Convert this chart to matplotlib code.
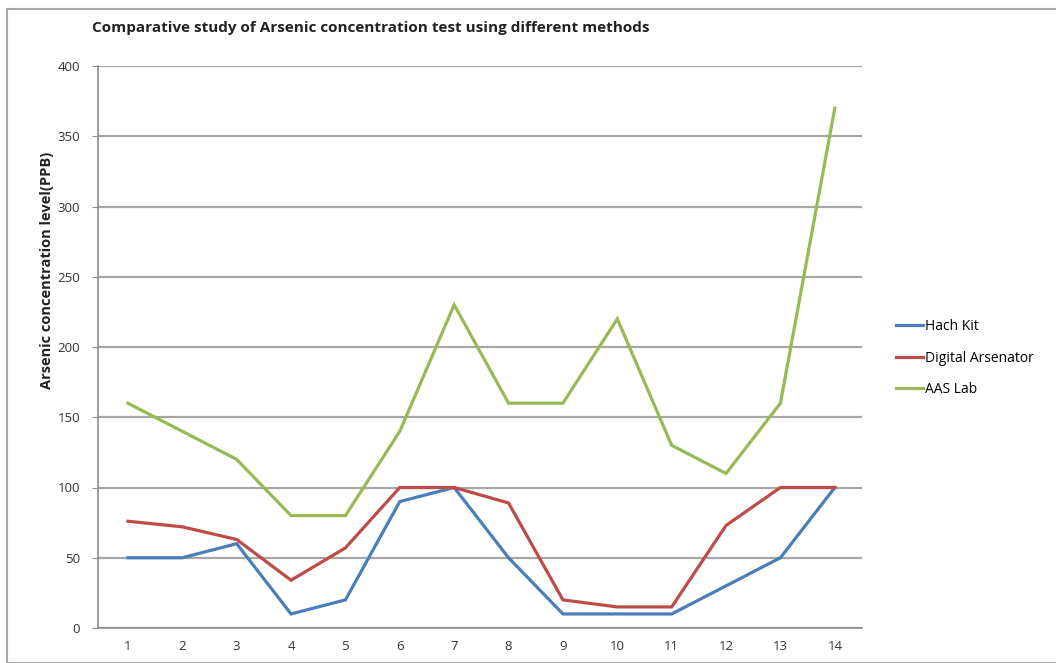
import matplotlib.pyplot as plt
from matplotlib.patches import Rectangle

plt.rcParams['font.family'] = ['Open Sans', 'DejaVu Sans']

samples = list(range(1, 15))
hach_kit = [50, 50, 60, 10, 20, 90, 100, 50, 10, 10, 10, 30, 50, 100]
digital_arsenator = [76, 72, 63, 34, 57, 100, 100, 89, 20, 15, 15, 73, 100, 100]
aas_lab = [160, 140, 120, 80, 80, 140, 230, 160, 160, 220, 130, 110, 160, 370]

series = [
    ('Hach Kit', hach_kit, '#4a7ebb'),
    ('Digital Arsenator', digital_arsenator, '#be4b48'),
    ('AAS Lab', aas_lab, '#98b954'),
]

W, H = 1056, 663
fig = plt.figure(figsize=(W / 100, H / 100), dpi=100)
ax = fig.add_axes([98 / W, 1 - 628 / H, (862 - 98) / W, (628 - 66) / H])

# outer chart border
fig.patches.append(Rectangle((7 / W, 0), 1.0, 1 - 9 / H, transform=fig.transFigure,
                             fill=False, edgecolor='#a6a6a6', linewidth=1.5))

for name, vals, color in series:
    ax.plot(samples, vals, color=color, linewidth=2.3, label=name, solid_joinstyle='miter')

ax.set_xlim(0.45, 14.5)
ax.set_ylim(0, 400)
ax.set_yticks(range(0, 401, 50))
ax.set_xticks(samples)
ax.yaxis.grid(True, color='#a6a6a6', linewidth=1.6)
ax.set_axisbelow(True)

for side in ['top', 'right']:
    ax.spines[side].set_visible(False)
for side in ['left', 'bottom']:
    ax.spines[side].set_color('#8c8c8c')
    ax.spines[side].set_linewidth(1.2)

ax.tick_params(axis='y', length=4, color='#8c8c8c', labelsize=9.5, labelcolor='#333333', pad=9)
ax.tick_params(axis='x', length=0, labelsize=9.5, labelcolor='#333333', pad=9)

fig.text(92 / W, 1 - 28 / H, 'Comparative study of Arsenic concentration test using different methods',
         fontsize=11, fontweight='bold', color='#222222', va='center', ha='left')
fig.text(47 / W, 1 - 270 / H, 'Arsenic concentration level(PPB)', rotation=90,
         fontsize=10.5, fontweight='bold', color='#222222', va='center', ha='center')

ax.legend(loc='center left', bbox_to_anchor=(883 / W, 1 - 358 / H),
          bbox_transform=fig.transFigure, frameon=False, fontsize=10,
          handlelength=2.0, handletextpad=0.1, labelspacing=1.2)

fig.savefig('out.png', dpi=100)
